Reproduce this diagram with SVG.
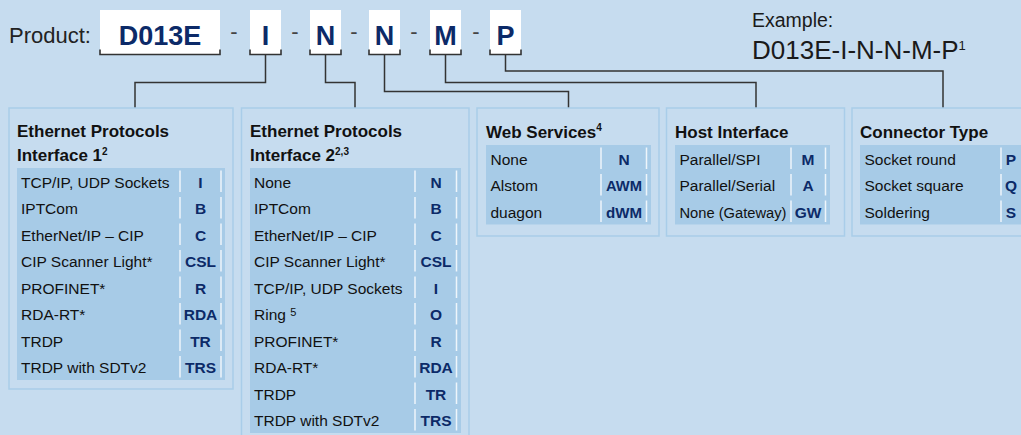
<svg xmlns="http://www.w3.org/2000/svg" width="1021" height="435" viewBox="0 0 1021 435">
<style>
.bg{fill:#c6dcef}
.panel{fill:none;stroke:#a9cde9;stroke-width:1.5}
.tbl{fill:#a7cbe7}
.sep{stroke:#eef5fb;stroke-width:1.5;stroke-dasharray:21.5 5}
.box{fill:#ffffff}
.br{fill:none;stroke:#333;stroke-width:1.6}
.conn{fill:none;stroke:#333;stroke-width:1.5}
.lbl{font-family:"Liberation Sans",Arial,sans-serif;font-size:22px;fill:#222}
.dash{font-family:"Liberation Sans",Arial,sans-serif;font-size:22px;fill:#444;text-anchor:middle}
.big{font-family:"Liberation Sans",Arial,sans-serif;font-size:27px;font-weight:bold;fill:#0c2a68;text-anchor:middle}
.ex1{font-family:"Liberation Sans",Arial,sans-serif;font-size:19.5px;fill:#1a1a1a}
.ex2{font-family:"Liberation Sans",Arial,sans-serif;font-size:26px;fill:#1a1a1a}
.h{font-family:"Liberation Sans",Arial,sans-serif;font-size:17px;font-weight:bold;fill:#111}
.t{font-family:"Liberation Sans",Arial,sans-serif;font-size:15.5px;fill:#111}
.c{font-family:"Liberation Sans",Arial,sans-serif;font-size:15.5px;font-weight:bold;fill:#0c2a68;text-anchor:middle}
</style>
<rect class="bg" x="0" y="0" width="1021" height="435"/>

<g id="product">
  <text class="lbl" x="9" y="42.5">Product:</text>
  <rect class="box" x="100" y="10" width="120" height="45"/>
  <path class="br" d="M100,49.5 V54.5 H220 V49.5"/>
  <text class="big" x="160" y="45">D013E</text>
  <text class="dash" x="234" y="39">-</text>
  <rect class="box" x="250" y="10" width="31" height="45"/>
  <path class="br" d="M250,49.5 V54.5 H281 V49.5"/>
  <text class="big" x="265.5" y="45">I</text>
  <text class="dash" x="295" y="39">-</text>
  <rect class="box" x="310" y="10" width="31" height="45"/>
  <path class="br" d="M310,49.5 V54.5 H341 V49.5"/>
  <text class="big" x="325.5" y="45">N</text>
  <text class="dash" x="354" y="39">-</text>
  <rect class="box" x="369" y="10" width="31" height="45"/>
  <path class="br" d="M369,49.5 V54.5 H400 V49.5"/>
  <text class="big" x="384.5" y="45">N</text>
  <text class="dash" x="414" y="39">-</text>
  <rect class="box" x="430" y="10" width="31" height="45"/>
  <path class="br" d="M430,49.5 V54.5 H461 V49.5"/>
  <text class="big" x="445.5" y="45">M</text>
  <text class="dash" x="476" y="39">-</text>
  <rect class="box" x="490" y="10" width="31" height="45"/>
  <path class="br" d="M490,49.5 V54.5 H521 V49.5"/>
  <text class="big" x="505.5" y="45">P</text>
</g>

<g id="example">
  <text class="ex1" x="752" y="26.7">Example:</text>
  <text class="ex2" x="752" y="59.3">D013E-I-N-N-M-P<tspan font-size="13" dy="-9">1</tspan></text>
</g>

<g id="connectors">
  <path class="conn" d="M265.5,55 V82.5 H135 V108"/>
  <path class="conn" d="M325.5,55 V82.5 H355 V108"/>
  <path class="conn" d="M384.5,55 V91.5 H568.5 V108"/>
  <path class="conn" d="M445.5,55 V82.5 H756 V108"/>
  <path class="conn" d="M505.5,55 V71 H943 V108"/>
</g>

<g id="interface1">
  <rect class="panel" x="9" y="108" width="224" height="281"/>
  <text class="h" x="17" y="137">Ethernet Protocols</text>
  <text class="h" x="17" y="161">Interface 1<tspan font-size="10" dy="-6">2</tspan></text>
  <rect class="tbl" x="17" y="168" width="208" height="212"/>
  <line class="sep" x1="180" y1="170.5" x2="180" y2="380"/>
  <line class="sep" x1="221" y1="170.5" x2="221" y2="380"/>
  <text class="t" x="21" y="187.5">TCP/IP, UDP Sockets</text><text class="c" x="200.5" y="187.5">I</text>
  <text class="t" x="21" y="214">IPTCom</text><text class="c" x="200.5" y="214">B</text>
  <text class="t" x="21" y="240.5">EtherNet/IP – CIP</text><text class="c" x="200.5" y="240.5">C</text>
  <text class="t" x="21" y="267">CIP Scanner Light*</text><text class="c" x="200.5" y="267">CSL</text>
  <text class="t" x="21" y="293.5">PROFINET*</text><text class="c" x="200.5" y="293.5">R</text>
  <text class="t" x="21" y="320">RDA-RT*</text><text class="c" x="200.5" y="320">RDA</text>
  <text class="t" x="21" y="346.5">TRDP</text><text class="c" x="200.5" y="346.5">TR</text>
  <text class="t" x="21" y="373">TRDP with SDTv2</text><text class="c" x="200.5" y="373">TRS</text>
</g>

<g id="interface2">
  <rect class="panel" x="241.5" y="108" width="227.5" height="336"/>
  <text class="h" x="250" y="137">Ethernet Protocols</text>
  <text class="h" x="250" y="161">Interface 2<tspan font-size="10" dy="-6">2,3</tspan></text>
  <rect class="tbl" x="250" y="168" width="211" height="265"/>
  <line class="sep" x1="415" y1="170.5" x2="415" y2="433"/>
  <line class="sep" x1="456.5" y1="170.5" x2="456.5" y2="433"/>
  <text class="t" x="254" y="187.5">None</text><text class="c" x="436" y="187.5">N</text>
  <text class="t" x="254" y="214">IPTCom</text><text class="c" x="436" y="214">B</text>
  <text class="t" x="254" y="240.5">EtherNet/IP – CIP</text><text class="c" x="436" y="240.5">C</text>
  <text class="t" x="254" y="267">CIP Scanner Light*</text><text class="c" x="436" y="267">CSL</text>
  <text class="t" x="254" y="293.5">TCP/IP, UDP Sockets</text><text class="c" x="436" y="293.5">I</text>
  <text class="t" x="254" y="320">Ring <tspan font-size="11" dy="-4">5</tspan></text><text class="c" x="436" y="320">O</text>
  <text class="t" x="254" y="346.5">PROFINET*</text><text class="c" x="436" y="346.5">R</text>
  <text class="t" x="254" y="373">RDA-RT*</text><text class="c" x="436" y="373">RDA</text>
  <text class="t" x="254" y="399.5">TRDP</text><text class="c" x="436" y="399.5">TR</text>
  <text class="t" x="254" y="426">TRDP with SDTv2</text><text class="c" x="436" y="426">TRS</text>
</g>

<g id="webservices">
  <rect class="panel" x="477" y="108" width="182" height="128"/>
  <text class="h" x="486" y="138">Web Services<tspan font-size="10" dy="-7">4</tspan></text>
  <rect class="tbl" x="486" y="145" width="165" height="79.5"/>
  <line class="sep" x1="601" y1="147.5" x2="601" y2="224.5"/>
  <line class="sep" x1="646.5" y1="147.5" x2="646.5" y2="224.5"/>
  <text class="t" x="490.5" y="164.5">None</text><text class="c" x="624" y="164.5">N</text>
  <text class="t" x="490.5" y="191">Alstom</text><text class="c" x="624" y="191" textLength="36" lengthAdjust="spacingAndGlyphs">AWM</text>
  <text class="t" x="490.5" y="217.5">duagon</text><text class="c" x="624" y="217.5" textLength="36" lengthAdjust="spacingAndGlyphs">dWM</text>
</g>

<g id="hostinterface">
  <rect class="panel" x="666.5" y="108" width="178" height="128"/>
  <text class="h" x="675" y="138">Host Interface</text>
  <rect class="tbl" x="675" y="145" width="155" height="79.5"/>
  <line class="sep" x1="791" y1="147.5" x2="791" y2="224.5"/>
  <line class="sep" x1="825.5" y1="147.5" x2="825.5" y2="224.5"/>
  <text class="t" x="679.5" y="164.5">Parallel/SPI</text><text class="c" x="808" y="164.5">M</text>
  <text class="t" x="679.5" y="191">Parallel/Serial</text><text class="c" x="808" y="191">A</text>
  <text class="t" x="679.5" y="217.5" textLength="107" lengthAdjust="spacingAndGlyphs">None (Gateway)</text><text class="c" x="808" y="217.5">GW</text>
</g>

<g id="connectortype">
  <rect class="panel" x="852" y="108" width="190" height="128"/>
  <text class="h" x="860" y="138">Connector Type</text>
  <rect class="tbl" x="860" y="145" width="175" height="79.5"/>
  <line class="sep" x1="1001" y1="147.5" x2="1001" y2="224.5"/>
  <text class="t" x="864.5" y="164.5">Socket round</text><text class="c" x="1011" y="164.5">P</text>
  <text class="t" x="864.5" y="191">Socket square</text><text class="c" x="1011" y="191">Q</text>
  <text class="t" x="864.5" y="217.5">Soldering</text><text class="c" x="1011" y="217.5">S</text>
</g>
</svg>
